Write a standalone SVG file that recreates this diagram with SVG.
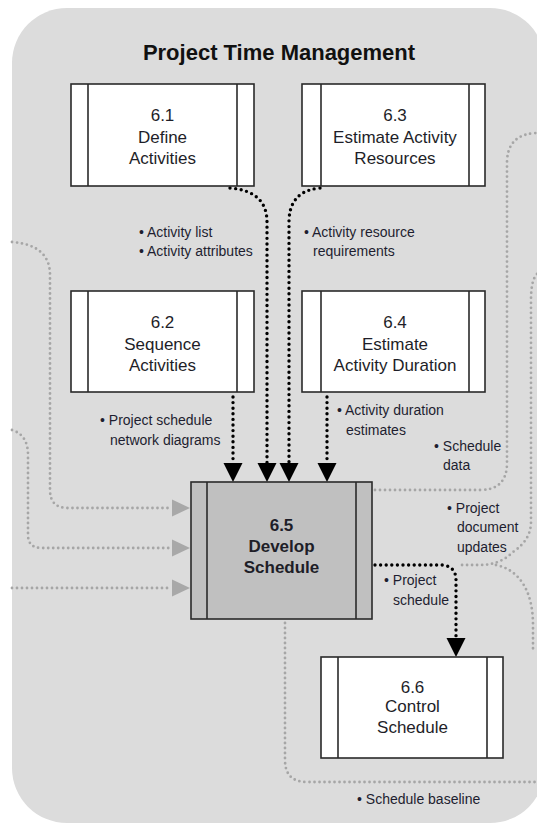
<svg xmlns="http://www.w3.org/2000/svg" width="537" height="825" viewBox="0 0 537 825">
<style>
.bg{fill:#dcdcdc}
.box{fill:#fff;stroke:#2a2a2a;stroke-width:1.6}
.box5{fill:#c0c0c0;stroke:#2a2a2a;stroke-width:1.6}
.in{stroke:#2a2a2a;stroke-width:1.6}
.t{font-family:"Liberation Sans",Arial,sans-serif;font-size:17px;fill:#1e1e28;text-anchor:middle}
.tb{font-family:"Liberation Sans",Arial,sans-serif;font-size:17px;font-weight:bold;fill:#1e1e28;text-anchor:middle}
.title{font-family:"Liberation Sans",Arial,sans-serif;font-size:22px;font-weight:bold;fill:#111;text-anchor:middle}
.lb{font-family:"Liberation Sans",Arial,sans-serif;font-size:14px;fill:#1e1e30}
.blk{fill:none;stroke:#000;stroke-width:3.4;stroke-linecap:round;stroke-dasharray:0 5.6}
.gry{fill:none;stroke:#a6a6a6;stroke-width:2.8;stroke-linecap:round;stroke-dasharray:0 5}
</style>
<defs>
<marker id="ab" markerUnits="userSpaceOnUse" viewBox="0 -10 19 20" markerWidth="19" markerHeight="20" refX="0" refY="0" orient="auto"><path d="M0,-9.5 L19,0 L0,9.5z" fill="#000"/></marker>
<marker id="ag" markerUnits="userSpaceOnUse" viewBox="0 -9 18 18" markerWidth="18" markerHeight="18" refX="0" refY="0" orient="auto"><path d="M0,-8.5 L18,0 L0,8.5z" fill="#a8a8a8"/></marker>
</defs>
<rect class="bg" x="12" y="8" width="533" height="815" rx="55" ry="55"/>
<text class="title" x="279" y="60">Project Time Management</text>

<g id="connectors">
<path class="gry" d="M12,242 Q50,245 50,275 L50,490 Q50,508 68,508 L172,508" marker-end="url(#ag)"/>
<path class="gry" d="M12,430 Q28,435 28,455 L28,535 Q28,548 42,548 L172,548" marker-end="url(#ag)"/>
<path class="gry" d="M12,588 L172,588" marker-end="url(#ag)"/>
<path class="gry" d="M375,490 L480,490 Q507,490 507,463 L507,163 Q507,134 537,133"/>
<path class="gry" d="M537,274 Q531,280 531,300 L531,522 Q531,540 513,552 Q500,565 480,565 L458,565"/>
<path class="gry" d="M496,565 C520,570 533,592 533,625 L533,650"/>
<path class="gry" d="M285,623 L285,760 Q285,782 307,782 L537,782"/>
<path class="blk" d="M230,188 Q267,191 267,222 L267,463" marker-end="url(#ab)"/>
<path class="blk" d="M320,188 Q289,191 289,222 L289,463" marker-end="url(#ab)"/>
<path class="blk" d="M233,397 L233,463" marker-end="url(#ab)"/>
<path class="blk" d="M327,397 L327,463" marker-end="url(#ab)"/>
<path class="blk" d="M375,565 L443,565 Q456,567 456,580 L456,638" marker-end="url(#ab)"/>
</g>

<g id="node-6-1">
<rect class="box" x="71" y="84" width="183" height="102"/>
<line class="in" x1="88" y1="84" x2="88" y2="186"/>
<line class="in" x1="237" y1="84" x2="237" y2="186"/>
<text class="t" x="162.5" y="121">6.1</text>
<text class="t" x="162.5" y="143">Define</text>
<text class="t" x="162.5" y="164">Activities</text>
</g>
<g id="node-6-3">
<rect class="box" x="302" y="84" width="183" height="102"/>
<line class="in" x1="321" y1="84" x2="321" y2="186"/>
<line class="in" x1="469" y1="84" x2="469" y2="186"/>
<text class="t" x="395" y="121">6.3</text>
<text class="t" x="395" y="143">Estimate Activity</text>
<text class="t" x="395" y="164">Resources</text>
</g>
<g id="node-6-2">
<rect class="box" x="71" y="291" width="183" height="101"/>
<line class="in" x1="88" y1="291" x2="88" y2="392"/>
<line class="in" x1="237" y1="291" x2="237" y2="392"/>
<text class="t" x="162.5" y="328">6.2</text>
<text class="t" x="162.5" y="350">Sequence</text>
<text class="t" x="162.5" y="371">Activities</text>
</g>
<g id="node-6-4">
<rect class="box" x="302" y="291" width="183" height="101"/>
<line class="in" x1="321" y1="291" x2="321" y2="392"/>
<line class="in" x1="469" y1="291" x2="469" y2="392"/>
<text class="t" x="395" y="328">6.4</text>
<text class="t" x="395" y="350">Estimate</text>
<text class="t" x="395" y="371">Activity Duration</text>
</g>
<g id="node-6-5">
<rect class="box5" x="191" y="482" width="181" height="137"/>
<line class="in" x1="207" y1="482" x2="207" y2="619"/>
<line class="in" x1="356" y1="482" x2="356" y2="619"/>
<text class="tb" x="281.5" y="531">6.5</text>
<text class="tb" x="281.5" y="552">Develop</text>
<text class="tb" x="281.5" y="573">Schedule</text>
</g>
<g id="node-6-6">
<rect class="box" x="321" y="657" width="182" height="101"/>
<line class="in" x1="338" y1="657" x2="338" y2="758"/>
<line class="in" x1="487" y1="657" x2="487" y2="758"/>
<text class="t" x="412.5" y="693">6.6</text>
<text class="t" x="412.5" y="712">Control</text>
<text class="t" x="412.5" y="733">Schedule</text>
</g>

<g id="labels">
<text class="lb" x="139" y="237">• Activity list</text>
<text class="lb" x="139" y="256">• Activity attributes</text>
<text class="lb" x="304" y="237">• Activity resource</text>
<text class="lb" x="313" y="256">requirements</text>
<text class="lb" x="100" y="425">• Project schedule</text>
<text class="lb" x="110" y="445">network diagrams</text>
<text class="lb" x="337" y="415">• Activity duration</text>
<text class="lb" x="346" y="435">estimates</text>
<text class="lb" x="434" y="451">• Schedule</text>
<text class="lb" x="443" y="470">data</text>
<text class="lb" x="447" y="513">• Project</text>
<text class="lb" x="457" y="532">document</text>
<text class="lb" x="457" y="552">updates</text>
<text class="lb" x="384" y="585">• Project</text>
<text class="lb" x="393" y="605">schedule</text>
<text class="lb" x="357" y="804">• Schedule baseline</text>
</g>
</svg>
